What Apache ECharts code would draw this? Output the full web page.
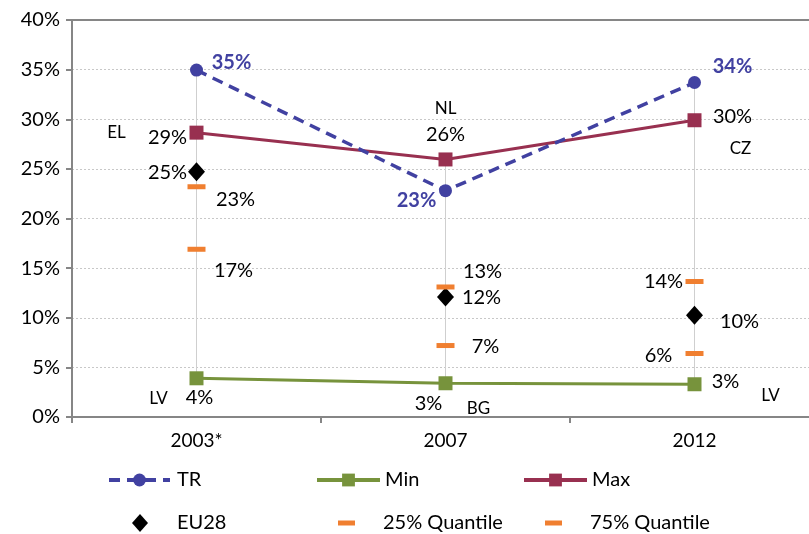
<!DOCTYPE html>
<html>
<head>
<meta charset="utf-8">
<script src="https://cdn.jsdelivr.net/npm/echarts@6/dist/echarts.min.js"></script>
<style>html,body{margin:0;padding:0;background:#fff;}#chart{width:809px;height:534px;}</style>
</head>
<body>
<div id="chart"></div>
<script>
// ---- data ----
const categories = ['2003*', '2007', '2012'];
const trValues = [34.95, 22.8, 33.7];
const minValues = [3.9, 3.4, 3.3];
const maxValues = [28.65, 25.95, 29.9];
const eu28Values = [24.7, 12.1, 10.25];
const q25Values = [16.9, 7.2, 6.4];
const q75Values = [23.2, 13.1, 13.65];
const minCountries = ['LV', 'BG', 'LV'];
const maxCountries = ['EL', 'NL', 'CZ'];
const yTickValues = [0, 5, 10, 15, 20, 25, 30, 35, 40];

// ---- label placement (style, not data) ----
const offTR = [[35, -8], [-29, 10], [38, -16]];
const offMax = [[-29, 5], [0, -25], [38, -4]];
const offMaxC = [[-80, 0], [0, -51], [46, 28]];
const offMin = [[3, 19], [-17, 20], [31, -3]];
const offMinC = [[-38, 20], [33, 25], [76, 11]];
const offEU = [[-29, 1], [36, 1], [45, 6]];
const offQ25 = [[37, 21], [40, 1], [-36, 2]];
const offQ75 = [[39, 13], [37, -15], [-31, 0]];

const FONT = 'Lato';
const FS = 20;
const C_TR = '#4141A1', C_MIN = '#77933C', C_MAX = '#983050', C_Q = '#F07F30';

function pct(v) { return Math.round(v) + '%'; }
function withLabels(vals, offs, extra) {
  return vals.map((v, i) => ({ value: v, label: Object.assign({ offset: offs[i] }, extra || {}) }));
}
const baseLabel = { show: true, position: 'inside', align: 'center', verticalAlign: 'middle',
  fontFamily: FONT, fontSize: FS, color: '#000', formatter: p => pct(p.value) };

const rangeData = categories.map((c, i) => {
  const all = [trValues[i], minValues[i], maxValues[i], eu28Values[i], q25Values[i], q75Values[i]];
  return [i, Math.min.apply(null, all), Math.max.apply(null, all)];
});

const chart = echarts.init(document.getElementById('chart'), null, { renderer: 'canvas' });

function lg(name, left, top, w, h, pad) {
  return { data: [name], left: left, top: top, itemWidth: w, itemHeight: h, selectedMode: false, padding: 0,
    textStyle: { fontFamily: FONT, fontSize: FS, lineHeight: 20, color: '#000', padding: [0, 0, 0, pad || 0] } };
}

chart.setOption({
  animation: false,
  backgroundColor: '#fff',
  grid: { left: 72, top: 20, width: 747, height: 397, containLabel: false, outerBoundsMode: 'none' },
  legend: [
    Object.assign(lg('TR', 107, 470, 61, 16, 2), { lineStyle: { width: 4 } }),
    Object.assign(lg('Min', 315, 470, 63, 16, 0), { lineStyle: { width: 4 } }),
    Object.assign(lg('Max', 522, 470, 63, 16, 0), { lineStyle: { width: 4 } }),
    Object.assign(lg('EU28', 132, 513, 16, 18, 24), { icon: 'diamond' }),
    Object.assign(lg('25% Quantile', 338, 513, 17, 5, 23), { icon: 'rect' }),
    Object.assign(lg('75% Quantile', 545, 513, 17, 5, 23), { icon: 'rect' })
  ],
  xAxis: [{
    type: 'category', data: categories, boundaryGap: true,
    axisLine: { lineStyle: { color: '#868686', width: 2 } },
    axisTick: { show: true, length: 6, lineStyle: { color: '#868686', width: 2 } },
    axisLabel: { fontFamily: FONT, fontSize: 19, color: '#000', margin: 14 }
  }, {
    type: 'category', data: categories, position: 'top',
    axisLine: { lineStyle: { color: '#868686', width: 2 } },
    axisTick: { show: false }, axisLabel: { show: false }
  }],
  yAxis: {
    type: 'value', min: 0, max: 40, interval: 5,
    axisLine: { show: true, lineStyle: { color: '#868686', width: 2 } },
    axisTick: { show: true, length: 6, lineStyle: { color: '#868686', width: 2 } },
    axisLabel: { fontFamily: FONT, fontSize: FS, color: '#000', margin: 12,
      formatter: v => yTickValues.indexOf(v) >= 0 ? v + '%' : '' },
    splitLine: { show: true, lineStyle: { color: '#C8C8C8', type: [2, 2], width: 1 } }
  },
  series: [
    {
      type: 'custom', name: 'range', silent: true, z: 1,
      data: rangeData,
      renderItem: function (params, api) {
        const a = api.coord([api.value(0), api.value(1)]);
        const b = api.coord([api.value(0), api.value(2)]);
        return { type: 'line', shape: { x1: a[0], y1: a[1], x2: b[0], y2: b[1] },
          style: { stroke: '#CFCFCF', lineWidth: 1 } };
      }
    },
    {
      name: 'Min', type: 'line', z: 3, symbol: 'rect', symbolSize: 14,
      itemStyle: { color: C_MIN }, lineStyle: { color: C_MIN, width: 3 },
      label: baseLabel, data: withLabels(minValues, offMin)
    },
    {
      name: 'Max', type: 'line', z: 3, symbol: 'rect', symbolSize: 14,
      itemStyle: { color: C_MAX }, lineStyle: { color: C_MAX, width: 3 },
      label: baseLabel, data: withLabels(maxValues, offMax)
    },
    {
      name: 'TR', type: 'line', z: 4, symbol: 'circle', symbolSize: 13,
      itemStyle: { color: C_TR }, lineStyle: { color: C_TR, width: 3.5, type: [11, 7] },
      label: Object.assign({}, baseLabel, { color: C_TR, fontWeight: 'bold' }),
      data: withLabels(trValues, offTR)
    },
    {
      name: 'EU28', type: 'scatter', z: 5, symbol: 'diamond', symbolSize: [17, 19],
      itemStyle: { color: '#000', opacity: 1 }, label: baseLabel, data: withLabels(eu28Values, offEU)
    },
    {
      name: '25% Quantile', type: 'scatter', z: 5, symbol: 'rect', symbolSize: [18, 5],
      itemStyle: { color: C_Q, opacity: 1 }, label: baseLabel, data: withLabels(q25Values, offQ25)
    },
    {
      name: '75% Quantile', type: 'scatter', z: 5, symbol: 'rect', symbolSize: [18, 5],
      itemStyle: { color: C_Q, opacity: 1 }, label: baseLabel, data: withLabels(q75Values, offQ75)
    },
    {
      name: 'maxCountry', type: 'scatter', z: 6, symbolSize: 1, silent: true,
      itemStyle: { color: 'rgba(0,0,0,0)', opacity: 1 },
      label: Object.assign({}, baseLabel, { fontSize: 17, formatter: p => maxCountries[p.dataIndex] }),
      data: withLabels(maxValues, offMaxC)
    },
    {
      name: 'minCountry', type: 'scatter', z: 6, symbolSize: 1, silent: true,
      itemStyle: { color: 'rgba(0,0,0,0)', opacity: 1 },
      label: Object.assign({}, baseLabel, { fontSize: 17, formatter: p => minCountries[p.dataIndex] }),
      data: withLabels(minValues, offMinC)
    }
  ]
});
</script>
</body>
</html>
